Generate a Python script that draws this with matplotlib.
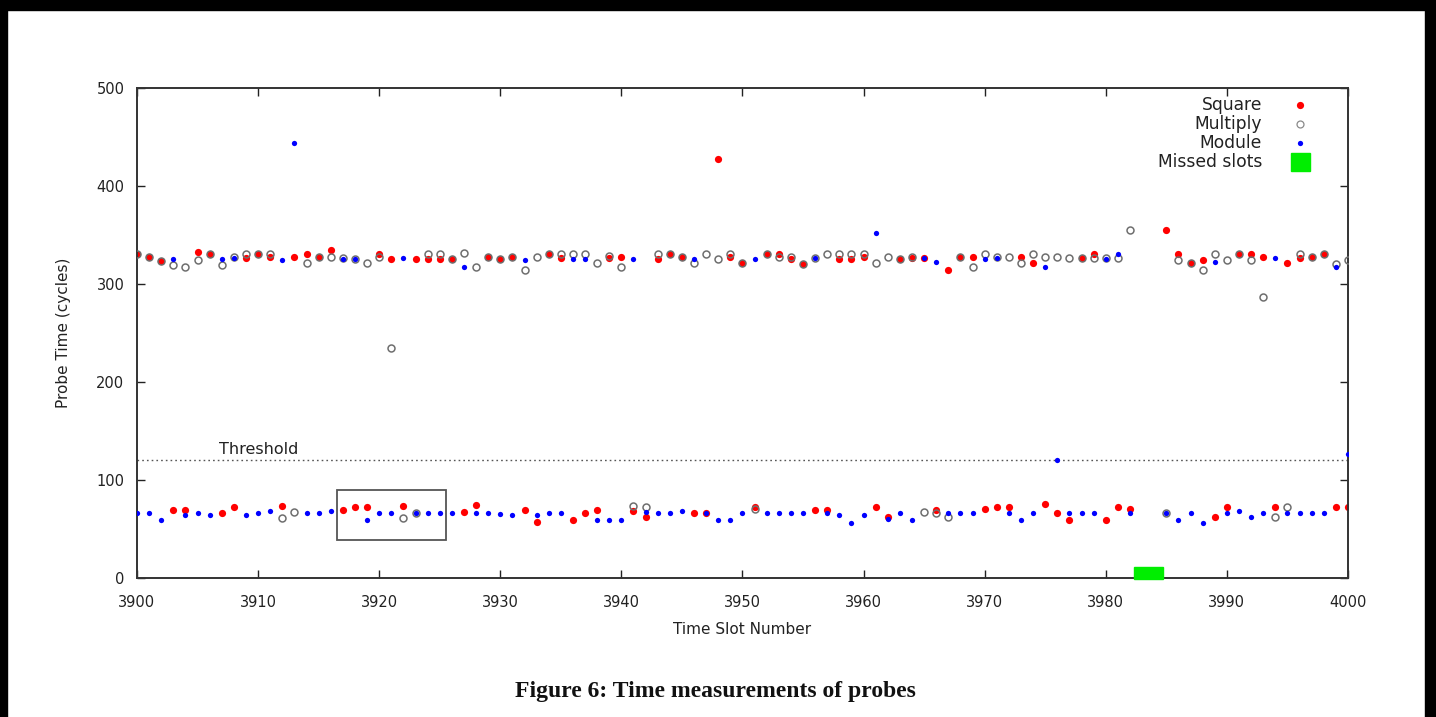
import matplotlib.pyplot as plt
import matplotlib.patches as patches
import numpy as np

# time slots 3900..4000, slots 3983 and 3984 were missed (no probes)
slots = np.arange(3900, 4001)
nan = np.nan

# probe times (cycles) for the cache sets of each operation
square = [331, 328, 323, 69, 69, 333, 331, 66, 72, 326,
          331, 328, 73, 328, 331, 328, 335, 69, 72, 72,
          331, 325, 73, 325, 325, 325, 325, 67, 74, 328,
          325, 328, 69, 57, 331, 327, 59, 66, 69, 326,
          328, 68, 62, 325, 331, 328, 66, 66, 428, 328,
          321, 72, 331, 331, 325, 320, 69, 69, 325, 325,
          328, 72, 62, 325, 327, 326, 69, 314, 328, 328,
          70, 72, 72, 328, 321, 75, 66, 59, 326, 331,
          59, 72, 70, nan, nan, 355, 331, 321, 324, 62,
          72, 331, 331, 328, 72, 321, 326, 328, 331, 72,
          72]
multiply = [331, 328, 323, 319, 317, 324, 331, 319, 328, 331,
            331, 331, 61, 67, 321, 328, 328, 326, 325, 321,
            328, 235, 61, 66, 331, 331, 325, 332, 317, 328,
            325, 328, 314, 328, 331, 331, 331, 331, 321, 329,
            317, 73, 72, 331, 331, 328, 321, 331, 325, 331,
            321, 70, 331, 328, 328, 320, 326, 331, 331, 331,
            331, 321, 328, 325, 328, 67, 66, 62, 328, 317,
            331, 328, 328, 321, 331, 328, 328, 326, 326, 326,
            326, 326, 355, nan, nan, 66, 324, 321, 314, 331,
            324, 331, 324, 287, 62, 72, 331, 328, 331, 320,
            324]
module = [66, 66, 59, 325, 64, 66, 64, 325, 327, 64,
          66, 68, 324, 444, 66, 66, 68, 325, 325, 59,
          66, 66, 327, 66, 66, 66, 66, 317, 66, 66,
          65, 64, 324, 64, 66, 66, 325, 325, 59, 59,
          59, 325, 67, 66, 66, 68, 325, 66, 59, 59,
          66, 325, 66, 66, 66, 66, 326, 66, 64, 56,
          64, 352, 60, 66, 59, 326, 322, 66, 66, 66,
          325, 326, 66, 59, 66, 317, 120, 66, 66, 66,
          325, 331, 66, nan, nan, 66, 59, 66, 56, 322,
          66, 68, 62, 66, 326, 66, 66, 66, 66, 317,
          127]

threshold = 120
missed = [3983, 3984]

fig = plt.figure(figsize=(14.36, 7.17), dpi=100)
fig.patch.set_facecolor('white')

# dark frame round the scanned page
fig.patches.append(patches.Rectangle((0, 0.986), 1, 0.014, transform=fig.transFigure,
                                     color='black', zorder=0))
fig.patches.append(patches.Rectangle((0, 0), 0.005, 1, transform=fig.transFigure,
                                     color='black', zorder=0))
fig.patches.append(patches.Rectangle((0.992, 0), 0.008, 1, transform=fig.transFigure,
                                     color='black', zorder=0))

ax = fig.add_axes([0.0954, 0.1939, 0.8433, 0.6834])

ax.plot(slots, multiply, 'o', ms=5, mfc='none', mec='#6e6e6e', mew=1.1, zorder=3)
ax.plot(slots, square, 'o', ms=5.2, color='#ff0000', mew=0, zorder=2)
ax.plot(slots, module, 'o', ms=3.8, color='#0000ff', mew=0, zorder=4)

# threshold separating hits from misses
ax.axhline(threshold, color='#555555', lw=1.0, ls=(0, (1.2, 2.2)), zorder=1)
ax.text(3906.8, threshold + 3, 'Threshold', fontsize=11.5, color='#222222',
        va='bottom', ha='left')

# highlighted group of slots
ax.add_patch(patches.Rectangle((3916.5, 39), 9, 51, fill=False, ec='#555555', lw=1.3, zorder=5))

# missed slots shown as a green box on the axis
ax.add_patch(patches.Rectangle((missed[0] - 0.7, -1), len(missed) + 0.4, 12,
                               color='#00ee00', clip_on=False, zorder=6))

ax.set_xlim(3900, 4000)
ax.set_ylim(0, 500)
ax.set_xticks(np.arange(3900, 4001, 10))
ax.set_yticks(np.arange(0, 501, 100))
ax.tick_params(direction='in', top=True, right=True, length=6, width=1.0,
               labelsize=10.5, colors='#222222')
ax.tick_params(axis='x', pad=12)
ax.tick_params(axis='y', pad=9)
for sp in ax.spines.values():
    sp.set_linewidth(1.4)
    sp.set_color('#333333')

ax.set_xlabel('Time Slot Number', fontsize=11, color='#222222', labelpad=9)
ax.set_ylabel('Probe Time (cycles)', fontsize=11, color='#222222', labelpad=18)

# key in the top right corner, labels right aligned
labels = ['Square', 'Multiply', 'Module', 'Missed slots']
rows = [0.965, 0.927, 0.888, 0.849]
for lab, yy in zip(labels, rows):
    ax.text(0.929, yy, lab, transform=ax.transAxes, ha='right', va='center',
            fontsize=12.3, color='#222222')
ax.plot([0.960], [rows[0]], 'o', ms=5.2, color='#ff0000', mew=0, transform=ax.transAxes, clip_on=False)
ax.plot([0.960], [rows[1]], 'o', ms=5, mfc='none', mec='#8a8a8a', mew=0.9,
        transform=ax.transAxes, clip_on=False)
ax.plot([0.960], [rows[2]], 'o', ms=3.8, color='#0000ff', mew=0, transform=ax.transAxes, clip_on=False)
ax.add_patch(patches.Rectangle((0.953, 0.831), 0.0155, 0.036, transform=ax.transAxes,
                               color='#00ee00', clip_on=False))

fig.text(0.498, 0.036, 'Figure 6: Time measurements of probes', ha='center', va='center',
         fontsize=17, family='Liberation Serif', weight='bold', color='#111111')

fig.savefig('out.png', dpi=100)
